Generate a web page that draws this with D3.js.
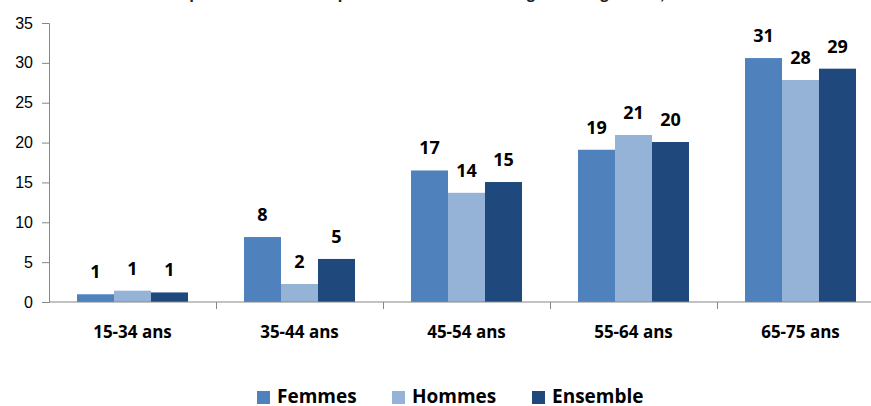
<!DOCTYPE html>
<html>
<head>
<meta charset="utf-8">
<script src="https://cdn.jsdelivr.net/npm/d3@7"></script>
<style>
  body { margin: 0; background: #fff; }
  svg { display: block; }
</style>
</head>
<body>
<script>
// données
const categories = ['15-34 ans', '35-44 ans', '45-54 ans', '55-64 ans', '65-75 ans'];
const seriesNames = ['Femmes', 'Hommes', 'Ensemble'];
const femmes = [0.97, 8.15, 16.5, 19.1, 30.6];
const hommes = [1.42, 2.26, 13.7, 20.95, 27.85];
const ensemble = [1.2, 5.4, 15.05, 20.07, 29.27];
const yTicks = [0, 5, 10, 15, 20, 25, 30, 35];
const colors = ['#4F81BD', '#95B3D7', '#1F497D'];

const width = 871, height = 406;
const margin = { top: 23, left: 49, bottom: 104 };
const plotBottom = height - margin.bottom; // 302

const svg = d3.select('body').append('svg')
    .attr('width', width)
    .attr('height', height);

// titre coupé en haut de l'image
svg.append('text')
    .attr('x', 435).attr('y', -1)
    .attr('text-anchor', 'middle')
    .style('font-family', 'Liberation Sans, Arial, sans-serif')
    .style('font-size', '17px')
    .style('font-weight', 'bold')
    .attr('fill', '#222')
    .text('Proportion de diabétiques selon le sexe et l\u2019âge au diagnostic, en %');

const x0 = d3.scaleBand()
    .domain(categories)
    .range([margin.left, margin.left + 167 * categories.length])
    .paddingInner(0)
    .paddingOuter(0);

const x1 = d3.scaleBand()
    .domain(seriesNames)
    .range([0, x0.bandwidth()])
    .paddingOuter(0.757)
    .paddingInner(0);

const y = d3.scaleLinear()
    .domain([0, 35])
    .range([plotBottom, margin.top]);

const rows = categories.map((c, i) => ({
    cat: c,
    values: [femmes[i], hommes[i], ensemble[i]]
}));

// axe y
svg.append('g')
    .attr('transform', `translate(${margin.left},0)`)
    .call(d3.axisLeft(y).tickValues(yTicks).tickSize(7).tickPadding(9))
    .call(g => g.select('.domain').attr('stroke', '#868686'))
    .call(g => g.selectAll('.tick line').attr('stroke', '#868686'))
    .call(g => g.selectAll('.tick text')
        .style('font-family', 'Liberation Sans, Arial, sans-serif')
        .style('font-size', '16px')
        .attr('fill', '#000'));

// barres
const groups = svg.append('g').selectAll('g')
    .data(rows)
    .join('g')
    .attr('transform', d => `translate(${x0(d.cat)},0)`);

groups.selectAll('rect')
    .data(d => d.values.map((v, j) => ({ name: seriesNames[j], v, j })))
    .join('rect')
    .attr('x', d => x1(d.name))
    .attr('y', d => y(d.v))
    .attr('width', x1.bandwidth())
    .attr('height', d => plotBottom - y(d.v))
    .attr('fill', d => colors[d.j]);

groups.selectAll('text')
    .data(d => d.values.map((v, j) => ({ name: seriesNames[j], v, j })))
    .join('text')
    .attr('x', d => x1(d.name) + x1.bandwidth() / 2)
    .attr('y', d => y(d.v) - 16)
    .attr('text-anchor', 'middle')
    .style('font-family', 'Open Sans, Liberation Sans, sans-serif')
    .style('font-size', '18px')
    .style('font-weight', 'bold')
    .attr('fill', '#000')
    .text(d => Math.round(d.v));

// axe x
const xAxis = svg.append('g')
    .attr('transform', `translate(0,${plotBottom})`);
xAxis.append('line')
    .attr('x1', margin.left).attr('x2', x0.range()[1])
    .attr('stroke', '#868686');
xAxis.selectAll('line.sep')
    .data(categories.slice(1))
    .join('line')
    .attr('class', 'sep')
    .attr('x1', d => x0(d) + 0.5).attr('x2', d => x0(d) + 0.5)
    .attr('y1', 0).attr('y2', 7)
    .attr('stroke', '#868686');
xAxis.selectAll('text')
    .data(categories)
    .join('text')
    .attr('x', d => x0(d) + x0.bandwidth() / 2)
    .attr('y', 36)
    .attr('text-anchor', 'middle')
    .style('font-family', 'Open Sans, Liberation Sans, sans-serif')
    .style('font-size', '17px')
    .style('font-weight', 'bold')
    .attr('fill', '#000')
    .text(d => d);

// légende
const legendX = [257, 392, 532];
const legend = svg.append('g').selectAll('g')
    .data(seriesNames)
    .join('g')
    .attr('transform', (d, i) => `translate(${legendX[i]},391)`);
legend.append('rect')
    .attr('width', 13).attr('height', 13)
    .attr('fill', (d, i) => colors[i]);
legend.append('text')
    .attr('x', 20).attr('y', 12)
    .style('font-family', 'Open Sans, Liberation Sans, sans-serif')
    .style('font-size', '19px')
    .style('font-weight', 'bold')
    .attr('fill', '#000')
    .text(d => d);
</script>
</body>
</html>
